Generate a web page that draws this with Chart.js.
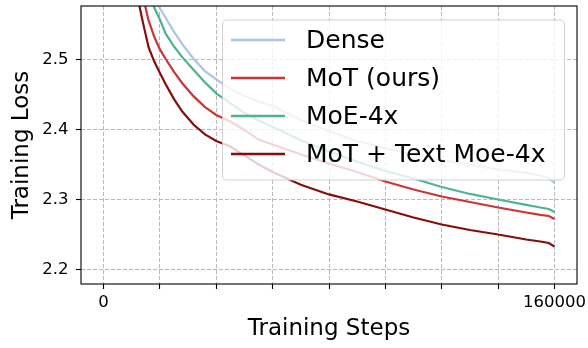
<!DOCTYPE html>
<html>
<head>
<meta charset="utf-8">
<script src="https://cdn.jsdelivr.net/npm/chart.js@4/dist/chart.umd.min.js"></script>
<style>
  html, body { margin: 0; padding: 0; background: #ffffff; }
  #wrap { width: 588px; height: 348px; position: relative; }
</style>
</head>
<body>
<div id="wrap"><canvas id="c" width="588" height="348"></canvas></div>
<script>
// ---- data ----
const steps = [10000, 12000, 14000, 16000, 18000, 20000, 22000, 25000, 28000, 32000, 36000, 40000,
  45000, 50000, 55000, 60000, 70000, 80000, 90000, 100000, 110000, 120000, 130000, 140000,
  150000, 155000, 158000, 160000];

const denseLoss = [2.70, 2.68, 2.66, 2.64, 2.60, 2.5736, 2.5603, 2.540, 2.5223, 2.5013, 2.484, 2.4721,
  2.4586, 2.4486, 2.4407, 2.4343, 2.4143, 2.3986, 2.3843, 2.3736, 2.365, 2.3571, 2.350, 2.3436,
  2.3386, 2.335, 2.3314, 2.3243];

const motLoss = [2.66, 2.614, 2.590, 2.5561, 2.5331, 2.515, 2.5017, 2.4829, 2.4663, 2.4479, 2.4326, 2.4214,
  2.4121, 2.400, 2.3863, 2.3793, 2.3651, 2.3521, 2.340, 2.3264, 2.315, 2.305, 2.2971, 2.2893,
  2.2821, 2.2786, 2.2771, 2.2729];

const moeLoss = [2.69, 2.66, 2.63, 2.607, 2.5744, 2.5577, 2.5379, 2.5191, 2.5036, 2.4857, 2.4679, 2.4523,
  2.4379, 2.4243, 2.4136, 2.4046, 2.3853, 2.3693, 2.355, 2.3414, 2.3307, 2.3186, 2.3086, 2.3007,
  2.2929, 2.2893, 2.2871, 2.2829];

const motTextMoeLoss = [2.631, 2.591, 2.5529, 2.5179, 2.4976, 2.4814, 2.4656, 2.444, 2.426, 2.4074, 2.3936, 2.3843,
  2.3764, 2.3636, 2.3507, 2.340, 2.3217, 2.3079, 2.2979, 2.2864, 2.275, 2.265, 2.2571, 2.2507,
  2.2436, 2.2407, 2.2386, 2.2336];

const seriesLabels = ['Dense', 'MoT (ours)', 'MoE-4x', 'MoT + Text Moe-4x'];
const seriesColors = ['#aac6e6', '#cc3535', '#4fb38f', '#880c0c'];

const xTickValues = [0, 20000, 40000, 60000, 80000, 100000, 120000, 140000, 160000];
const xLabeledTicks = [0, 160000];
const yTickValues = [2.2, 2.3, 2.4, 2.5];

const xTitle = 'Training Steps';
const yTitle = 'Training Loss';

// ---- drawing ----
const FONT = "'DejaVu Sans', 'Liberation Sans', sans-serif";

function toPoints(vals) { return steps.map((s, i) => ({ x: s, y: vals[i] })); }

const seriesValues = [denseLoss, motLoss, moeLoss, motTextMoeLoss];
const datasets = seriesValues.map((vals, i) => ({
  label: seriesLabels[i],
  data: toPoints(vals),
  borderColor: seriesColors[i],
  backgroundColor: seriesColors[i],
  borderWidth: 2.2,
  pointRadius: 0,
  tension: 0,
  fill: false,
  clip: 0,
  order: i
}));

const framePlugin = {
  id: 'frameAndLegend',
  afterDraw(chart) {
    const ctx = chart.ctx;
    const a = chart.chartArea;
    ctx.save();
    // axes frame
    ctx.strokeStyle = '#000000';
    ctx.lineWidth = 1.1;
    ctx.setLineDash([]);
    ctx.strokeRect(a.left, a.top, a.right - a.left, a.bottom - a.top);

    // legend (semi-transparent box like matplotlib)
    const bx = 222.5, by = 20, bw = 342, bh = 160, r = 5;
    ctx.beginPath();
    ctx.moveTo(bx + r, by);
    ctx.lineTo(bx + bw - r, by);
    ctx.quadraticCurveTo(bx + bw, by, bx + bw, by + r);
    ctx.lineTo(bx + bw, by + bh - r);
    ctx.quadraticCurveTo(bx + bw, by + bh, bx + bw - r, by + bh);
    ctx.lineTo(bx + r, by + bh);
    ctx.quadraticCurveTo(bx, by + bh, bx, by + bh - r);
    ctx.lineTo(bx, by + r);
    ctx.quadraticCurveTo(bx, by, bx + r, by);
    ctx.closePath();
    ctx.fillStyle = 'rgba(255,255,255,0.8)';
    ctx.fill();
    ctx.strokeStyle = 'rgba(204,204,204,0.9)';
    ctx.lineWidth = 1;
    ctx.stroke();

    const rowY = [40, 78, 116, 154];
    ctx.font = '25px ' + FONT;
    ctx.textBaseline = 'middle';
    ctx.textAlign = 'left';
    chart.data.datasets.forEach((ds, i) => {
      const y = rowY[i];
      ctx.strokeStyle = ds.borderColor;
      ctx.lineWidth = 2.6;
      ctx.beginPath();
      ctx.moveTo(231, y);
      ctx.lineTo(285, y);
      ctx.stroke();
      ctx.fillStyle = '#000000';
      ctx.fillText(ds.label, 306, y + 1);
    });
    ctx.restore();
  }
};

new Chart(document.getElementById('c'), {
  type: 'line',
  data: { datasets },
  plugins: [framePlugin],
  options: {
    responsive: false,
    animation: false,
    devicePixelRatio: 1,
    layout: { padding: { top: 6, right: 11, left: 0, bottom: 0 } },
    plugins: { legend: { display: false }, tooltip: { enabled: false } },
    scales: {
      x: {
        type: 'linear',
        min: -8000,
        max: 168000,
        afterBuildTicks(scale) { scale.ticks = xTickValues.map(v => ({ value: v })); },
        afterFit(scale) { scale.height = 64; scale.paddingLeft = 0; scale.paddingRight = 0; },
        ticks: {
          autoSkip: false,
          maxRotation: 0,
          minRotation: 0,
          padding: 3.5,
          color: '#000000',
          font: { family: FONT, size: 16.5 },
          callback: (v) => xLabeledTicks.includes(v) ? String(v) : ''
        },
        grid: {
          color: '#b9b9b9',
          lineWidth: 1,
          drawTicks: true,
          tickLength: 5,
          tickColor: '#000000',
          tickWidth: 1.1,
          tickBorderDash: []
        },
        border: { display: false, dash: [4, 2] },
        title: {
          display: true,
          text: xTitle,
          color: '#000000',
          font: { family: FONT, size: 23, lineHeight: 1.2 },
          padding: { top: 0, bottom: 5 }
        }
      },
      y: {
        type: 'linear',
        min: 2.18,
        max: 2.577,
        afterBuildTicks(scale) { scale.ticks = yTickValues.map(v => ({ value: v })); },
        afterFit(scale) { scale.width = 81; scale.paddingTop = 0; scale.paddingBottom = 0; },
        ticks: {
          padding: 7.5,
          color: '#000000',
          font: { family: FONT, size: 16.5 },
          callback: (v) => Number(v).toFixed(1)
        },
        grid: {
          color: '#b9b9b9',
          lineWidth: 1,
          drawTicks: true,
          tickLength: 5,
          tickColor: '#000000',
          tickWidth: 1.1,
          tickBorderDash: []
        },
        border: { display: false, dash: [4, 2] },
        title: {
          display: true,
          text: yTitle,
          color: '#000000',
          font: { family: FONT, size: 23, lineHeight: 1.2 },
          padding: { top: 8, bottom: 0 }
        }
      }
    }
  }
});
</script>
</body>
</html>
